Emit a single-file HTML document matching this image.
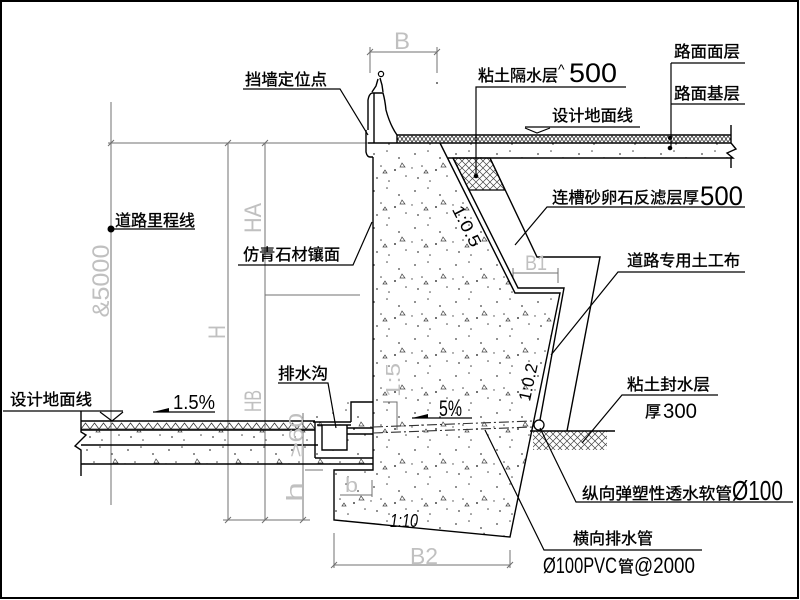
<!DOCTYPE html>
<html><head><meta charset="utf-8">
<style>
html,body{margin:0;padding:0;background:#fff;}
svg{display:block;}
.cn{font-family:"Liberation Sans","Noto Sans CJK SC",sans-serif;font-size:16px;fill:#000;stroke:#000;stroke-width:0.35;}
.num{font-family:"Liberation Sans",sans-serif;fill:#000;}
.dim{font-family:"Liberation Sans",sans-serif;fill:#c0c0c0;}
</style></head><body>
<svg width="800" height="600" viewBox="0 0 800 600" xmlns="http://www.w3.org/2000/svg">
<defs>
<pattern id="conc" patternUnits="userSpaceOnUse" width="41" height="37">
 <g fill="#444">
  <circle cx="5" cy="6" r="0.9"/><circle cx="18" cy="3" r="0.8"/><circle cx="30" cy="10" r="0.9"/>
  <circle cx="12" cy="18" r="0.8"/><circle cx="26" cy="22" r="1"/><circle cx="37" cy="28" r="0.8"/>
  <circle cx="8" cy="30" r="0.9"/><circle cx="20" cy="33" r="0.8"/><circle cx="2" cy="20" r="0.7"/>
 </g>
 <path d="M33,15l3,4l-5,0z M14,25l2,-3l2,3z" stroke="#444" stroke-width="0.7" fill="none"/>
</pattern>
<pattern id="xh" patternUnits="userSpaceOnUse" width="7" height="7">
 <path d="M0,0L7,7M7,0L0,7" stroke="#444" stroke-width="0.7"/>
</pattern>
<pattern id="zig1" patternUnits="userSpaceOnUse" x="0" y="135" width="8" height="8">
 <path d="M0,1L4,7L8,1M0,7L4,1L8,7" stroke="#333" stroke-width="0.8" fill="none"/>
</pattern>
<pattern id="zig2" patternUnits="userSpaceOnUse" x="0" y="421" width="9" height="9">
 <path d="M0,8L4.5,2L9,8z" stroke="#333" stroke-width="0.8" fill="none"/>
</pattern>
</defs>

<rect x="1" y="1" width="797" height="597" fill="#fff" stroke="#000" stroke-width="2"/>

<!-- fills -->
<polygon points="373,143 440,143 515,293 560,293 510,537 334,520 334,470 373,470" fill="url(#conc)"/>
<polygon points="440,143 731,143 731,158 448,158" fill="url(#conc)"/>
<rect x="397" y="135" width="334" height="8" fill="url(#zig1)"/>
<rect x="81" y="421" width="234" height="9" fill="url(#zig2)"/>
<rect x="81" y="430" width="234" height="34" fill="url(#conc)"/>
<rect x="315" y="402" width="58" height="62" fill="url(#conc)"/>
<rect x="322" y="425" width="25" height="25" fill="#fff"/>
<polygon points="453,158 490,158 505,190 469,190" fill="url(#xh)" stroke="#000" stroke-width="1.2"/>
<rect x="533" y="431" width="74" height="19" fill="url(#xh)"/>

<!-- dimension lines (gray) -->
<g stroke="#707070" stroke-width="1" fill="none">
 <path d="M108,143L368,143"/>
 <path d="M111,102L111,505"/>
 <path d="M228,143L228,520"/>
 <path d="M265,143L265,520"/>
 <path d="M303,413L303,520"/>
 <path d="M265,295L360,295"/>
 <path d="M223,520L310,520"/>
 <path d="M305,470L323,470"/>
 <path d="M370,52L437,52M370,47L370,73M437,47L437,73"/>
 <path d="M513,273L558,273M558,268L558,283M513,268L513,278"/>
 <path d="M334,565L510,565M334,533L334,568M510,550L510,568"/>
 <path d="M383,402L397,402L397,430"/>
 <path d="M108,146L114,140M225,146L231,140M262,146L268,140M225,523L231,517M262,523L268,517M300,523L306,517M367,55L373,49M434,55L440,49M331,568L337,562M507,568L513,562"/>
</g>
<circle cx="437" cy="83" r="1" fill="#555"/>

<!-- main structure -->
<g stroke="#000" stroke-width="1.4" fill="none">
 <path d="M368,143L731,143"/>
 <path d="M397,135L731,135M397,135L397,143"/>
 <path d="M448,158L731,158"/>
 <path d="M731,125L731,143L736,149L727,153L733,158L731,158L731,168"/>
 <path d="M373,157L373,470L334,470L334,520L510,537L560,293L515,293L440,143"/>
 <path d="M453,158L518,288L564,288L540,420"/>
 <path d="M490,158L537,257L600,257L567,431"/>
 <path d="M530,431L615,431"/>
 <path d="M81,421L315,421M81,430L315,430M81,445L318,445M81,464L373,464M315,458L373,458"/>
 <path d="M81,411L81,432L86,435L75,446L81,450L81,476"/>
 <path d="M315,422L315,458"/>
 <path d="M313,422L351,422M317,425L351,425"/>
 <path d="M322,425L322,450L347,450L347,425"/>
 <path d="M351,422L351,402L373,402"/>
 <path d="M347,428L373,428M347,434L373,434"/>
 <path d="M368,130L368,100Q369,94 372,93L383,93Q385,100 386,110Q390,125 397,135"/>
 <path d="M366,130L366,152Q367,157 370,157L373,157"/>
 <path d="M374,93L374,143"/>
 <path d="M372,92L376,86L378,79M383,92L382,85L380,78"/>
</g>
<circle cx="381" cy="74" r="2.6" fill="#fff" stroke="#000" stroke-width="1.2"/>

<!-- drain lines -->
<g stroke="#333" stroke-width="1.1" fill="none" stroke-dasharray="10,3,2,3">
 <path d="M373,427L533,421"/>
 <path d="M373,433L533,427"/>
</g>
<circle cx="539" cy="425" r="5" fill="#fff" stroke="#000" stroke-width="1.3"/>

<!-- leaders & underlines -->
<g stroke="#000" stroke-width="1.2" fill="none">
 <path d="M243,89L340,89L368,135"/>
 <path d="M626,87L476,87L476,176"/>
 <path d="M671,63L745,63M671,104L745,104M671,63L671,148"/>
 <path d="M525,127L640,127"/>
 <path d="M525,128L537,133L550,128"/>
 <path d="M745,207L547,207L515,245"/>
 <path d="M745,272L618,272L551,355"/>
 <path d="M718,395L622,395L582,443"/>
 <path d="M793,502L576,502L540,428"/>
 <path d="M702,550L544,550L485,430"/>
 <path d="M278,383L328,383L336,428"/>
 <path d="M3,411L123,411"/>
 <path d="M100,412L112,421L123,412"/>
 <path d="M153,412L215,412"/>
 <path d="M412,418L472,418"/>
 <path d="M110,229L195,229"/>
 <path d="M238,265L353,265L372,222"/>
</g>
<path d="M153,412L169,408L169,412z" fill="#000"/>
<path d="M412,418L428,414L428,418z" fill="#000"/>
<circle cx="476" cy="176" r="2.3" fill="#000"/>
<circle cx="670" cy="138" r="2" fill="#000"/>
<circle cx="670" cy="148" r="2.3" fill="#000"/>
<circle cx="111" cy="229" r="3.5" fill="#000"/>

<!-- labels -->
<text class="cn" x="245" y="85" textLength="82" lengthAdjust="spacingAndGlyphs">挡墙定位点</text>
<text class="cn" x="478" y="81" textLength="80" lengthAdjust="spacingAndGlyphs">粘土隔水层</text>
<text class="num" x="558" y="74" font-size="14">^</text>
<text class="num" x="569" y="82" font-size="27" textLength="48" lengthAdjust="spacingAndGlyphs">500</text>
<text class="cn" x="674" y="57" textLength="66" lengthAdjust="spacingAndGlyphs">路面面层</text>
<text class="cn" x="674" y="99" textLength="66" lengthAdjust="spacingAndGlyphs">路面基层</text>
<text class="cn" x="552" y="121" textLength="81" lengthAdjust="spacingAndGlyphs">设计地面线</text>
<text class="cn" x="552" y="203" textLength="147" lengthAdjust="spacingAndGlyphs">连槽砂卵石反滤层厚</text>
<text class="num" x="700" y="205" font-size="27" textLength="43" lengthAdjust="spacingAndGlyphs">500</text>
<text class="cn" x="627" y="266" textLength="113" lengthAdjust="spacingAndGlyphs">道路专用土工布</text>
<text class="cn" x="627" y="390" textLength="83" lengthAdjust="spacingAndGlyphs">粘土封水层</text>
<text class="cn" x="645" y="417">厚</text>
<text class="num" x="663" y="418" font-size="21" textLength="34" lengthAdjust="spacingAndGlyphs">300</text>
<text class="cn" x="582" y="499" textLength="150" lengthAdjust="spacingAndGlyphs">纵向弹塑性透水软管</text>
<text class="num" x="732" y="500" font-size="28" textLength="51" lengthAdjust="spacingAndGlyphs">Ø100</text>
<text class="cn" x="573" y="544" textLength="80" lengthAdjust="spacingAndGlyphs">横向排水管</text>
<text class="num" x="543" y="573" font-size="22" textLength="74" lengthAdjust="spacingAndGlyphs">Ø100PVC</text>
<text class="cn" x="618" y="572">管</text>
<text class="num" x="634" y="573" font-size="22" textLength="61" lengthAdjust="spacingAndGlyphs">@2000</text>
<text class="cn" x="278" y="379" textLength="50" lengthAdjust="spacingAndGlyphs">排水沟</text>
<text class="cn" x="10" y="405" textLength="82" lengthAdjust="spacingAndGlyphs">设计地面线</text>
<text class="num" x="173" y="409" font-size="20" textLength="42" lengthAdjust="spacingAndGlyphs">1.5%</text>
<text class="num" x="439" y="416" font-size="22" textLength="23" lengthAdjust="spacingAndGlyphs">5%</text>
<text class="cn" x="115" y="226" textLength="80" lengthAdjust="spacingAndGlyphs">道路里程线</text>
<text class="cn" x="243" y="260" textLength="97" lengthAdjust="spacingAndGlyphs">仿青石材镶面</text>
<text class="num" x="390" y="527" font-size="18" font-style="italic" textLength="28" lengthAdjust="spacingAndGlyphs">1:10</text>
<text class="num" font-size="17" text-anchor="middle" transform="translate(467,226) rotate(63)" dy="6" textLength="44" lengthAdjust="spacingAndGlyphs">1:0.5</text>
<text class="num" font-size="17" text-anchor="middle" transform="translate(528,382) rotate(-78)" dy="6" textLength="38" lengthAdjust="spacingAndGlyphs">1:0.2</text>

<!-- gray dimension text -->
<text class="dim" x="394" y="49" font-size="24" textLength="16" lengthAdjust="spacingAndGlyphs">B</text>
<text class="dim" x="525" y="270" font-size="21" textLength="22" lengthAdjust="spacingAndGlyphs">B1</text>
<text class="dim" x="410" y="564" font-size="23" textLength="28" lengthAdjust="spacingAndGlyphs">B2</text>
<text class="dim" font-size="24" text-anchor="middle" transform="translate(101,281) rotate(-90)" dy="8" textLength="73" lengthAdjust="spacingAndGlyphs">&amp;5000</text>
<text class="dim" font-size="24" text-anchor="middle" transform="translate(253,218) rotate(-90)" dy="8" textLength="30" lengthAdjust="spacingAndGlyphs">HA</text>
<text class="dim" font-size="24" text-anchor="middle" transform="translate(217,332) rotate(-90)" dy="8" textLength="14" lengthAdjust="spacingAndGlyphs">H</text>
<text class="dim" font-size="24" text-anchor="middle" transform="translate(253,401) rotate(-90)" dy="8" textLength="22" lengthAdjust="spacingAndGlyphs">HB</text>
<text class="dim" font-size="22" text-anchor="middle" transform="translate(295,492) rotate(-90)" dy="7" textLength="20" lengthAdjust="spacingAndGlyphs">h</text>
<text class="dim" font-size="20" text-anchor="middle" transform="translate(296,435) rotate(-90)" dy="7" textLength="44" lengthAdjust="spacingAndGlyphs">≥60</text>
<text class="dim" font-size="20" text-anchor="middle" transform="translate(393,380) rotate(-90)" dy="7" textLength="34" lengthAdjust="spacingAndGlyphs">1:5</text>
<text class="dim" x="345" y="492" font-size="20" textLength="13" lengthAdjust="spacingAndGlyphs">b</text>
<path d="M340,495L372,495M372,480L372,497" stroke="#707070" stroke-width="1" fill="none"/>
</svg>
</body></html>
